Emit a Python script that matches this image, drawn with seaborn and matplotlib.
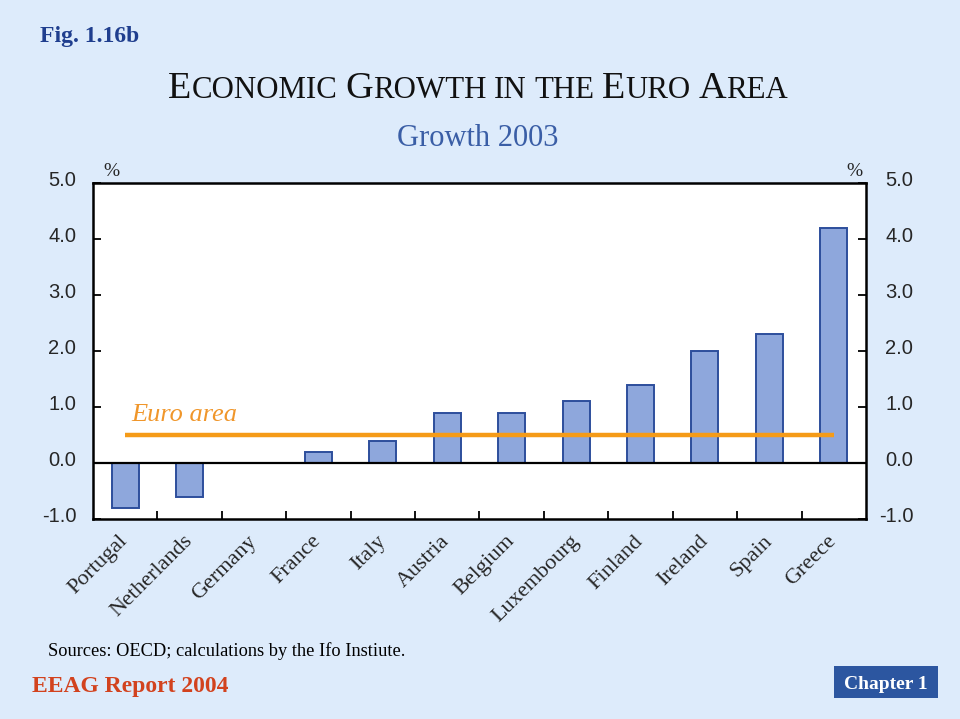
import matplotlib
matplotlib.use("Agg")
import matplotlib.pyplot as plt
import seaborn as sns
import pandas as pd
import numpy as np
from matplotlib.transforms import ScaledTranslation
from matplotlib.ticker import FixedLocator
from matplotlib.patches import Rectangle

# ---- data ----
countries = ["Portugal", "Netherlands", "Germany", "France", "Italy", "Austria",
             "Belgium", "Luxembourg", "Finland", "Ireland", "Spain", "Greece"]
growth = [-0.8, -0.6, 0.0, 0.2, 0.4, 0.9, 0.9, 1.1, 1.4, 2.0, 2.3, 4.2]
euro_area = 0.5
y_ticks = [-1.0, 0.0, 1.0, 2.0, 3.0, 4.0, 5.0]
y_tick_labels = ["-1.0", "0.0", "1.0", "2.0", "3.0", "4.0", "5.0"]

# ---- style ----
BG = "#DDEBFB"
SERIF = "Liberation Serif"
SANS = "Liberation Sans"
sns.set_theme(style="white")
plt.rcParams["font.family"] = [SANS, "DejaVu Sans"]

W, H = 960, 719
fig = plt.figure(figsize=(W / 100, H / 100), dpi=100, facecolor=BG)

ax = fig.add_axes([93 / W, 1 - 519 / H, (866 - 93) / W, (519 - 183) / H])
ax.set_facecolor("white")

df = pd.DataFrame({"country": countries, "growth": growth})
sns.barplot(data=df, x="country", y="growth", color="#8EA7DC", saturation=1,
            edgecolor="#2D4E9C", linewidth=1.4, width=0.42, ax=ax, zorder=2)

ax.axhline(0, color="black", lw=1.6, zorder=3)
ax.hlines(euro_area, 0, len(countries) - 1, color="#F59B18", lw=3.2, zorder=4)
ax.text(0.1, 0.75, "Euro area", family=SERIF, style="italic", fontsize=19,
        color="#F0962A", va="baseline", ha="left", zorder=5)

ax.set_xlim(-0.5, len(countries) - 0.5)
ax.set_ylim(y_ticks[0], y_ticks[-1])
ax.set_xlabel("")
ax.set_ylabel("")

for s in ax.spines.values():
    s.set_visible(True)
    s.set_color("black")
    s.set_linewidth(1.8)

# y ticks (left)
ax.set_yticks(y_ticks)
ax.set_yticklabels(y_tick_labels, fontsize=14.5, family=SANS)
ax.tick_params(axis="y", direction="in", length=6, width=1.3, color="black",
               pad=12, left=True, labelleft=True)
for lab in ax.get_yticklabels():
    lab.set_transform(lab.get_transform() + ScaledTranslation(0, 4 / 100, fig.dpi_scale_trans))

# x ticks: labels at centres, tick marks at boundaries
ax.set_xticks(range(len(countries)))
ax.set_xticklabels(countries, rotation=45, ha="right", va="center",
                   rotation_mode="anchor", family=SERIF, fontsize=16)
ax.tick_params(axis="x", which="major", length=0, pad=14)
ax.xaxis.set_minor_locator(FixedLocator(np.arange(0.5, len(countries) - 1, 1.0)))
ax.tick_params(axis="x", which="minor", direction="in", length=6, width=1.3,
               color="black", bottom=True)

# right axis labels
ax2 = ax.twinx()
ax2.set_ylim(ax.get_ylim())
ax2.set_yticks(y_ticks)
ax2.set_yticklabels(y_tick_labels, fontsize=14.5, family=SANS, ha="right")
ax2.tick_params(axis="y", direction="in", length=6, width=1.3, color="black",
                pad=34, right=True, labelright=True)
for lab in ax2.get_yticklabels():
    lab.set_transform(lab.get_transform() + ScaledTranslation(0, 4 / 100, fig.dpi_scale_trans))
for s in ax2.spines.values():
    s.set_visible(False)
ax2.grid(False)
ax.grid(False)

# % signs
fig.text(103 / W, 1 - 176 / H, "%", family=SERIF, fontsize=14, va="baseline", ha="left")
fig.text(846 / W, 1 - 176 / H, "%", family=SERIF, fontsize=14, va="baseline", ha="left")

# ---- small-caps title ----
big, small = 27.5, 22.2
segments = [("E", big), ("CONOMIC", small), (" ", small), ("G", big), ("ROWTH", small),
            (" ", small), ("IN", small), (" ", small), ("THE", small),
            (" ", small), ("E", big), ("URO", small), (" ", small), ("A", big), ("REA", small)]
fig.canvas.draw()
renderer = fig.canvas.get_renderer()
widths = []
for t, sz in segments:
    if t == " ":
        widths.append(0.25 * sz * 100 / 72)
    else:
        tmp = fig.text(0, 0, t, family=SERIF, fontsize=sz)
        widths.append(tmp.get_window_extent(renderer).width)
        tmp.remove()
total = sum(widths)
x0 = 478 - total / 2
base = 1 - 98 / H
for (t, sz), w in zip(segments, widths):
    if t != " ":
        fig.text(x0 / W, base, t, family=SERIF, fontsize=sz, va="baseline", ha="left",
                 color="#111111")
    x0 += w

fig.text(478 / W, 1 - 146 / H, "Growth 2003", family=SERIF, fontsize=22,
         color="#3A5EA6", ha="center", va="baseline")

fig.text(40 / W, 1 - 42 / H, "Fig. 1.16b", family=SERIF, fontsize=17,
         fontweight="bold", color="#1F3E8E", ha="left", va="baseline")

fig.text(48 / W, 1 - 656 / H, "Sources: OECD; calculations by the Ifo Instiute.",
         family=SERIF, fontsize=13.2, ha="left", va="baseline", color="black")

fig.text(32 / W, 1 - 692 / H, "EEAG Report 2004", family=SERIF, fontsize=17,
         fontweight="bold", color="#D2421E", ha="left", va="baseline")

fig.patches.append(Rectangle((834 / W, 1 - 698 / H), (938 - 834) / W, (698 - 666) / H,
                             transform=fig.transFigure, facecolor="#2C56A0",
                             edgecolor="none"))
fig.text(886 / W, 1 - 689 / H, "Chapter 1", family=SERIF, fontsize=14,
         fontweight="bold", color="white", ha="center", va="baseline")

fig.savefig("out.png", dpi=100, facecolor=BG)
